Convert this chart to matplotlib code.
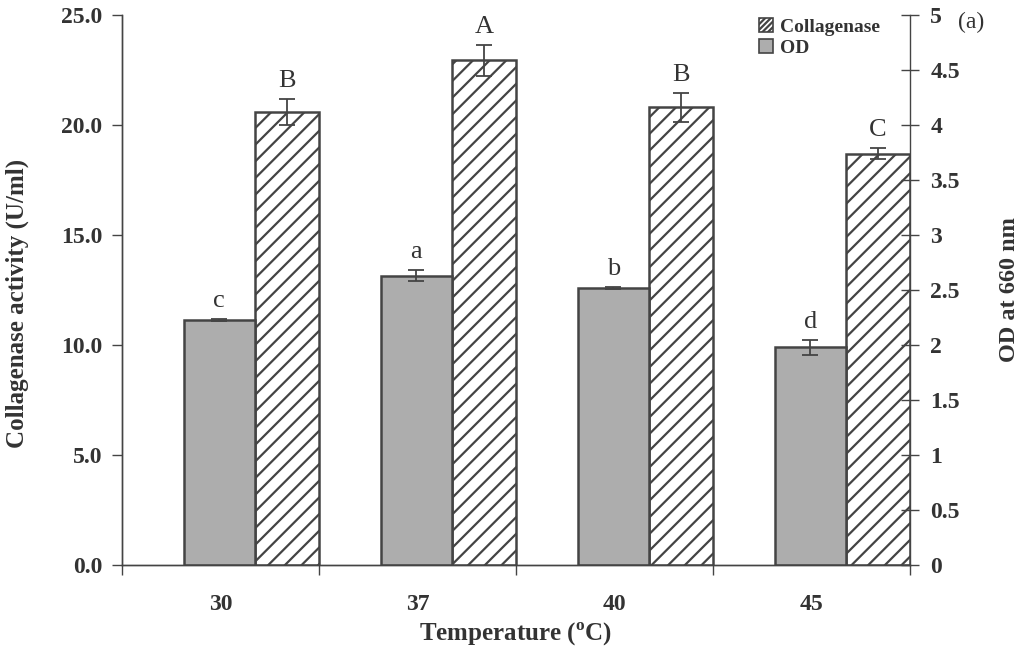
import matplotlib
matplotlib.use('Agg')
import matplotlib.pyplot as plt
from matplotlib.patches import Patch
import numpy as np

plt.rcParams['font.family'] = 'serif'
plt.rcParams['font.serif'] = ['Liberation Serif', 'DejaVu Serif']
plt.rcParams['mathtext.fontset'] = 'custom'
plt.rcParams['mathtext.rm'] = 'Liberation Serif'
plt.rcParams['mathtext.bf'] = 'Liberation Serif:bold'
plt.rcParams['hatch.linewidth'] = 1.6
plt.rcParams['hatch.color'] = '#444444'

# Data
temperatures = ['30', '37', '40', '45']
collagenase = [20.6, 22.95, 20.8, 18.7]        # U/ml (left axis)
collagenase_err = [0.6, 0.7, 0.65, 0.25]
collagenase_letters = ['B', 'A', 'B', 'C']
od660 = [2.23, 2.63, 2.52, 1.98]               # OD at 660 nm (right axis)
od660_err = [0.01, 0.05, 0.01, 0.07]
od_letters = ['c', 'a', 'b', 'd']

EDGE = '#444444'
GREY = '#adadad'
TXT = '#333333'

fig = plt.figure(figsize=(10.25, 6.59), dpi=100)
ax = fig.add_axes([0.119, 0.1426, 0.769, 0.8346])
ax2 = ax.twinx()

x = np.arange(len(temperatures))
w_od = 0.36
w_col = 0.327
x_od = x + 0.173 - w_od / 2
x_col = x + 0.5 - w_col / 2

# OD bars (grey, right axis)
ax2.bar(x_od, od660, w_od, yerr=od660_err, color=GREY, edgecolor=EDGE,
        linewidth=1.8, capsize=5.5, error_kw={'ecolor': EDGE, 'elinewidth': 1.3, 'capthick': 1.3})
# Collagenase bars (hatched, left axis)
ax.bar(x_col, collagenase, w_col, yerr=collagenase_err, color='white', edgecolor=EDGE,
       hatch='//', linewidth=1.8, capsize=5.5, zorder=3,
       error_kw={'ecolor': EDGE, 'elinewidth': 1.3, 'capthick': 1.3, 'zorder': 4})

for xi, v, e, lab in zip(x_od, od660, od660_err, od_letters):
    ax2.annotate(lab, (xi, v + e), xytext=(0, 5), textcoords='offset points',
                 ha='center', va='bottom', fontsize=19, color=TXT)
for xi, v, e, lab in zip(x_col, collagenase, collagenase_err, collagenase_letters):
    ax.annotate(lab, (xi, v + e), xytext=(0, 5), textcoords='offset points',
                ha='center', va='bottom', fontsize=19, color=TXT)

ax.set_xlim(-0.5, len(temperatures) - 0.5)
ax.set_ylim(0, 25)
ax2.set_ylim(0, 5)

ax.set_yticks(np.arange(0, 25.1, 5))
ax.set_yticklabels([f'{v:.1f}' for v in np.arange(0, 25.1, 5)], fontweight='bold', fontsize=17)
ax2.set_yticks(np.arange(0, 5.01, 0.5))
ax2.set_yticklabels(['0', '0.5', '1', '1.5', '2', '2.5', '3', '3.5', '4', '4.5', '5'],
                    fontweight='bold', fontsize=17)

ax.set_xticks(np.arange(-0.5, len(temperatures), 1.0))
ax.set_xticklabels([])
ax.set_xticks(x, minor=True)
ax.set_xticklabels(temperatures, minor=True, fontweight='bold', fontsize=17)
ax.tick_params(axis='x', which='minor', length=0, pad=21, colors=TXT)
ax.tick_params(axis='x', which='major', direction='out', length=7, width=1, color=EDGE)
ax.tick_params(axis='y', direction='out', length=7, width=1, color=EDGE, labelcolor=TXT, pad=7)
ax2.tick_params(axis='y', direction='inout', length=13, width=1, color=EDGE, labelcolor=TXT, pad=8)

for a in (ax, ax2):
    a.spines['top'].set_visible(False)
    for s in ('left', 'right', 'bottom'):
        a.spines[s].set_color(EDGE)
        a.spines[s].set_linewidth(1.0)
ax.spines['right'].set_visible(False)

ax.set_ylabel('Collagenase activity (U/ml)', fontweight='bold', fontsize=18, color=TXT)
ax.yaxis.set_label_coords(-0.118, 0.475)
ax2.set_ylabel('OD at 660 nm', fontweight='bold', fontsize=17.5, color=TXT)
ax2.yaxis.set_label_coords(1.113, 0.5)
ax.set_xlabel(r'Temperature ($^{\mathbf{o}}$C)', fontweight='bold', fontsize=18, color=TXT, labelpad=4)

handles = [Patch(facecolor='white', edgecolor=EDGE, hatch='//////', linewidth=1.2, label='Collagenase'),
           Patch(facecolor=GREY, edgecolor=EDGE, linewidth=1.2, label='OD')]
leg = ax.legend(handles=handles, loc='upper right', bbox_to_anchor=(0.972, 1.008), frameon=False,
                prop={'weight': 'bold', 'size': 14}, handlelength=0.7, handleheight=0.7,
                handletextpad=0.4, labelspacing=0.15, borderaxespad=0)
for t in leg.get_texts():
    t.set_color(TXT)

fig.text(0.935, 0.966, '(a)', fontsize=17, color=TXT, ha='left', va='center')

fig.savefig('out.png', dpi=100, facecolor='white')
